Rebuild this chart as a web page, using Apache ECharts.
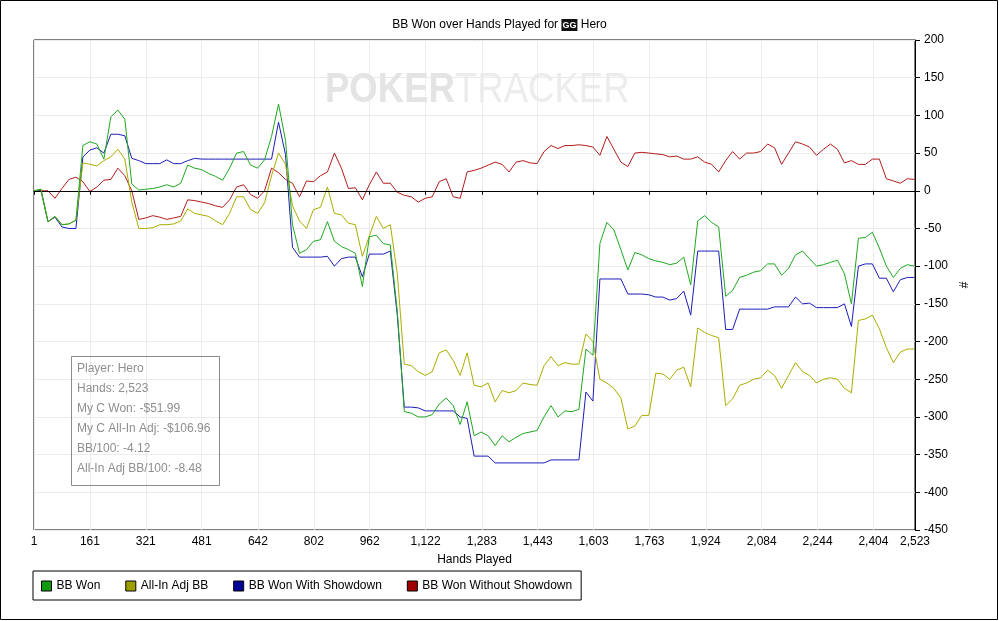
<!DOCTYPE html>
<html>
<head>
<meta charset="utf-8">
<script src="https://cdn.jsdelivr.net/npm/echarts@6.0.0/dist/echarts.min.js"></script>
<style>
  html, body { margin: 0; padding: 0; background: #fff; }
  #chart { width: 999px; height: 621px; }
</style>
</head>
<body>
<div id="chart"></div>
<script>
var hands = [1,21,41,61,81,101,121,141,161,181,201,221,241,261,281,301,321,341,361,381,401,421,441,461,481,501,521,541,561,581,601,621,641,661,681,701,721,741,761,781,801,821,841,861,881,901,921,941,961,981,1001,1021,1041,1061,1081,1101,1121,1141,1161,1181,1201,1221,1241,1261,1281,1301,1321,1341,1361,1381,1401,1421,1441,1461,1481,1501,1521,1541,1561,1581,1601,1621,1641,1661,1681,1701,1721,1741,1761,1781,1801,1821,1841,1861,1881,1901,1921,1941,1961,1981,2001,2021,2041,2061,2081,2101,2121,2141,2161,2181,2201,2221,2241,2261,2281,2301,2321,2341,2361,2381,2401,2421,2441,2461,2481,2501,2521,2523];

// BB Won
var bbWon = [0,2,-41,-34,-45,-44,-39,60,65,62,42,98,107,95,9,1,2,3,5,8,5,10,34,30,28,23,19,14,30,50,52,34,30,41,72,115,67,-45,-83,-78,-67,-65,-41,-67,-74,-78,-83,-127,-61,-59,-70,-72,-160,-293,-295,-300,-300,-297,-283,-275,-285,-310,-280,-325,-320,-325,-338,-325,-333,-327,-322,-320,-318,-300,-285,-300,-292,-293,-290,-210,-218,-70,-42,-52,-78,-105,-82,-85,-90,-93,-95,-98,-96,-88,-125,-40,-33,-42,-48,-140,-132,-115,-112,-108,-106,-97,-97,-112,-103,-85,-80,-90,-100,-98,-95,-92,-110,-150,-63,-62,-55,-76,-100,-115,-103,-98,-100,-100];

// All-In Adj BB
var allInAdj = [0,2,-41,-34,-45,-44,-39,37,35,33,40,45,55,42,-15,-50,-50,-49,-45,-45,-44,-40,-24,-30,-32,-34,-40,-45,-30,-8,-8,-25,-30,-16,20,50,35,-20,-40,-50,-25,-22,5,-30,-32,-43,-45,-87,-60,-34,-50,-45,-110,-230,-232,-240,-245,-240,-215,-211,-225,-245,-215,-258,-260,-255,-280,-265,-268,-265,-255,-257,-258,-232,-220,-232,-228,-230,-230,-190,-200,-250,-255,-262,-275,-316,-312,-298,-298,-242,-243,-250,-238,-234,-260,-182,-188,-192,-195,-285,-276,-258,-255,-250,-248,-238,-245,-262,-245,-228,-240,-245,-255,-250,-248,-250,-262,-268,-172,-170,-165,-183,-208,-228,-214,-210,-210,-210];

// BB Won With Showdown
var withSd = [0,0,-41,-35,-48,-50,-50,45,54,57,50,75,75,73,43,40,36,36,36,41,36,36,40,43,42,42,42,42,42,42,42,42,42,42,42,91,48,-75,-88,-88,-88,-88,-87,-100,-90,-88,-88,-114,-84,-84,-84,-80,-165,-287,-287,-288,-292,-292,-292,-292,-292,-300,-302,-352,-352,-352,-361,-361,-361,-361,-361,-361,-361,-361,-357,-357,-357,-357,-357,-267,-279,-117,-117,-117,-117,-137,-137,-137,-138,-141,-141,-145,-143,-133,-165,-80,-80,-80,-80,-184,-184,-157,-157,-157,-157,-157,-154,-154,-154,-141,-150,-149,-155,-155,-155,-155,-150,-180,-100,-97,-97,-116,-116,-134,-118,-115,-115,-115];

// BB Won Without Showdown
var withoutSd = [0,0,0,-10,3,15,18,12,-1,5,14,15,30,20,0,-38,-36,-33,-35,-38,-36,-34,-12,-13,-15,-17,-20,-22,-12,5,8,-5,-10,0,30,24,15,10,-8,13,12,20,25,50,30,3,4,-12,8,25,10,10,-2,-6,-8,-15,-10,-8,12,16,-8,-10,25,27,30,34,38,35,25,38,40,37,36,52,60,56,60,60,61,60,58,47,72,55,38,32,50,51,50,49,48,45,46,42,42,45,38,35,25,40,52,42,50,50,52,62,57,35,50,65,62,58,47,55,62,55,37,40,35,35,42,42,16,13,10,16,15,14];

var seriesNames = ['BB Won', 'All-In Adj BB', 'BB Won With Showdown', 'BB Won Without Showdown'];
var xTicks = [1,161,321,481,642,802,962,1122,1283,1443,1603,1763,1924,2084,2244,2404,2523];
var statLines = ['Player: Hero', 'Hands: 2,523', 'My C Won: -$51.99', 'My C All-In Adj: -$106.96', 'BB/100: -4.12', 'All-In Adj BB/100: -8.48'];

var FONT = '"Liberation Sans", Arial, sans-serif';

function pairs(vals) {
  return hands.map(function (h, i) { return [h, vals[i]]; });
}

var chart = echarts.init(document.getElementById('chart'), null, { renderer: 'canvas' });

// stats box text
var statGraphics = [{
  type: 'rect',
  shape: { x: 71.5, y: 356.5, width: 148, height: 129 },
  style: { fill: 'rgba(255,255,255,0)', stroke: '#8a8a8a', lineWidth: 1 },
  z: 10
}];
statLines.forEach(function (t, i) {
  statGraphics.push({
    type: 'text',
    x: 77, y: 369 + i * 20,
    style: { text: t, fill: '#8f8f8f', font: '12px ' + FONT, textVerticalAlign: 'middle' },
    z: 10
  });
});

var option = {
  animation: false,
  backgroundColor: '#fff',
  title: {
    text: '{t|BB Won over Hands Played for }{gg|GG}{t| Hero}',
    left: 'center',
    top: 14,
    textStyle: {
      fontWeight: 'normal',
      rich: {
        t: { fontSize: 12, fontWeight: 'normal', fontFamily: FONT, color: '#000' },
        gg: { fontSize: 9, fontWeight: 'bold', fontFamily: FONT, color: '#fff', backgroundColor: '#111', padding: [2, 1, 1, 1] }
      }
    }
  },
  graphic: [
    {
      type: 'rect',
      shape: { x: 0.5, y: 0.5, width: 997, height: 619 },
      style: { fill: 'none', stroke: '#000', lineWidth: 1 },
      z: 20
    },
    {
      type: 'text',
      x: 325, y: 90,
      scaleX: 0.87,
      style: {
        text: '{b|POKER}{n|TRACKER}',
        textVerticalAlign: 'middle',
        rich: {
          b: { fontSize: 42, fontWeight: 'bold', fontFamily: FONT, fill: '#e4e4e4' },
          n: { fontSize: 42, fontFamily: FONT, fill: '#ececec' }
        }
      },
      z: 1
    }
  ].concat(statGraphics),
  legend: {
    left: 33,
    top: 571,
    orient: 'horizontal',
    padding: [9, 9, 8, 8],
    borderColor: '#000',
    borderWidth: 1,
    itemGap: 25,
    itemWidth: 10,
    itemHeight: 10,
    icon: 'rect',
    textStyle: { fontSize: 12, fontFamily: FONT, color: '#000' },
    data: [
      { name: seriesNames[0], itemStyle: { color: '#109a10', borderColor: '#000', borderWidth: 1 } },
      { name: seriesNames[1], itemStyle: { color: '#9e9e00', borderColor: '#000', borderWidth: 1 } },
      { name: seriesNames[2], itemStyle: { color: '#00009a', borderColor: '#000', borderWidth: 1 } },
      { name: seriesNames[3], itemStyle: { color: '#a00000', borderColor: '#000', borderWidth: 1 } }
    ]
  },
  grid: {
    left: 34, right: 84, top: 40, bottom: 91,
    show: true, borderColor: '#000', borderWidth: 1
  },
  xAxis: {
    type: 'value',
    min: 1,
    max: 2523,
    name: 'Hands Played',
    nameLocation: 'middle',
    nameGap: 24,
    nameTextStyle: { fontSize: 12, fontFamily: FONT, color: '#000' },
    axisLine: { lineStyle: { color: '#000' } },
    axisTick: { show: true, length: 4, customValues: xTicks, lineStyle: { color: '#000' } },
    axisLabel: {
      customValues: xTicks,
      fontSize: 12, fontFamily: FONT, color: '#000', margin: 6,
      formatter: function (v) { return Math.round(v).toLocaleString('en-US'); }
    },
    splitLine: { show: true, lineStyle: { color: '#ebebeb' } }
  },
  yAxis: {
    type: 'value',
    position: 'right',
    min: -450,
    max: 200,
    interval: 50,
    name: '#',
    nameLocation: 'middle',
    nameGap: 40,
    nameRotate: 90,
    nameTextStyle: { fontSize: 12, fontFamily: FONT, color: '#000' },
    axisLine: { show: true, lineStyle: { color: '#000' } },
    axisTick: { show: true, inside: false, length: 5, lineStyle: { color: '#000' } },
    axisLabel: { fontSize: 12, fontFamily: FONT, color: '#000', margin: 9 },
    splitLine: { show: true, lineStyle: { color: '#ebebeb' } }
  },
  series: [
    {
      name: seriesNames[3], type: 'line', data: pairs(withoutSd), showSymbol: false, z: 2,
      lineStyle: { color: '#b31c1c', width: 1 }, itemStyle: { color: '#b31c1c' },
      markLine: {
        silent: true, symbol: 'none', label: { show: false },
        lineStyle: { color: '#000', width: 1, type: 'solid' },
        data: [{ yAxis: 0 }]
      }
    },
    {
      name: seriesNames[2], type: 'line', data: pairs(withSd), showSymbol: false, z: 3,
      lineStyle: { color: '#1c1cb8', width: 1 }, itemStyle: { color: '#1c1cb8' }
    },
    {
      name: seriesNames[1], type: 'line', data: pairs(allInAdj), showSymbol: false, z: 4,
      lineStyle: { color: '#acac00', width: 1 }, itemStyle: { color: '#acac00' }
    },
    {
      name: seriesNames[0], type: 'line', data: pairs(bbWon), showSymbol: false, z: 5,
      lineStyle: { color: '#1fa81f', width: 1 }, itemStyle: { color: '#1fa81f' }
    }
  ]
};

chart.setOption(option);
</script>
</body>
</html>
